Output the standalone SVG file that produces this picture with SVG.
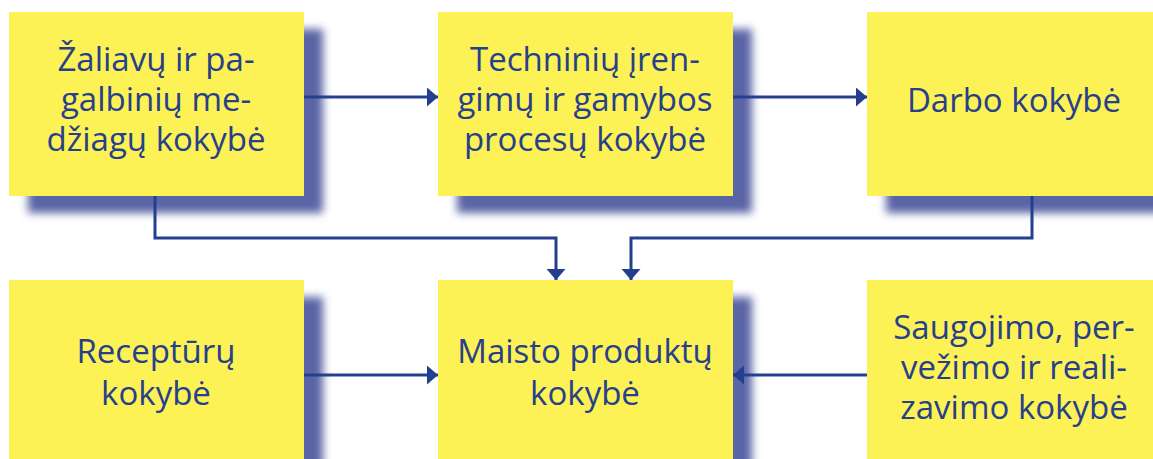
<svg xmlns="http://www.w3.org/2000/svg" width="1153" height="459" viewBox="0 0 1153 459">
<style>
.box{fill:#FCF155}
.sh{fill:#5A65A6;filter:url(#blur)}
.t{font-family:"Open Sans","Noto Sans",sans-serif;font-size:33px;fill:#27408B;text-anchor:middle}
.c{fill:none;stroke:#253F8F;stroke-width:3}
</style>
<defs>
<filter id="blur" x="-20%" y="-20%" width="140%" height="140%"><feGaussianBlur stdDeviation="4.5"/></filter>
<marker id="ah" viewBox="0 0 11 19" refX="11" refY="9.5" markerWidth="11" markerHeight="19" markerUnits="userSpaceOnUse" orient="auto"><path d="M0,0 L11,9.5 L0,19 Z" fill="#253F8F"/></marker>
</defs>
<g id="n1">
<rect class="sh" x="28" y="29" width="295" height="184"/>
<rect class="box" x="9" y="12" width="295" height="184"/>
<text class="t" x="156" y="71">Žaliavų ir pa-</text>
<text class="t" x="156" y="111">galbinių me-</text>
<text class="t" x="156" y="151">džiagų kokybė</text>
</g>
<g id="n2">
<rect class="sh" x="457" y="29" width="295" height="184"/>
<rect class="box" x="438" y="12" width="295" height="184"/>
<text class="t" x="585" y="71">Techninių įren-</text>
<text class="t" x="585" y="111">gimų ir gamybos</text>
<text class="t" x="585" y="151">procesų kokybė</text>
</g>
<g id="n3">
<rect class="sh" x="886" y="29" width="295" height="184"/>
<rect class="box" x="867" y="12" width="295" height="184"/>
<text class="t" x="1014" y="112">Darbo kokybė</text>
</g>
<g id="n4">
<rect class="sh" x="28" y="297" width="295" height="184"/>
<rect class="box" x="9" y="280" width="295" height="184"/>
<text class="t" x="156" y="363">Receptūrų</text>
<text class="t" x="156" y="405">kokybė</text>
</g>
<g id="n5">
<rect class="sh" x="457" y="297" width="295" height="184"/>
<rect class="box" x="438" y="280" width="295" height="184"/>
<text class="t" x="585" y="363">Maisto produktų</text>
<text class="t" x="585" y="405">kokybė</text>
</g>
<g id="n6">
<rect class="sh" x="886" y="297" width="295" height="184"/>
<rect class="box" x="867" y="280" width="295" height="184"/>
<text class="t" x="1014" y="339">Saugojimo, per-</text>
<text class="t" x="1014" y="379">vežimo ir reali-</text>
<text class="t" x="1014" y="419">zavimo kokybė</text>
</g>
<g id="connectors">
<path class="c" d="M304,97 H438" marker-end="url(#ah)"/>
<path class="c" d="M733,97 H867" marker-end="url(#ah)"/>
<path class="c" d="M155,196 V238 H556 V280" marker-end="url(#ah)"/>
<path class="c" d="M1032,196 V238 H631 V280" marker-end="url(#ah)"/>
<path class="c" d="M304,375 H438" marker-end="url(#ah)"/>
<path class="c" d="M867,375 H733" marker-end="url(#ah)"/>
</g>
</svg>
